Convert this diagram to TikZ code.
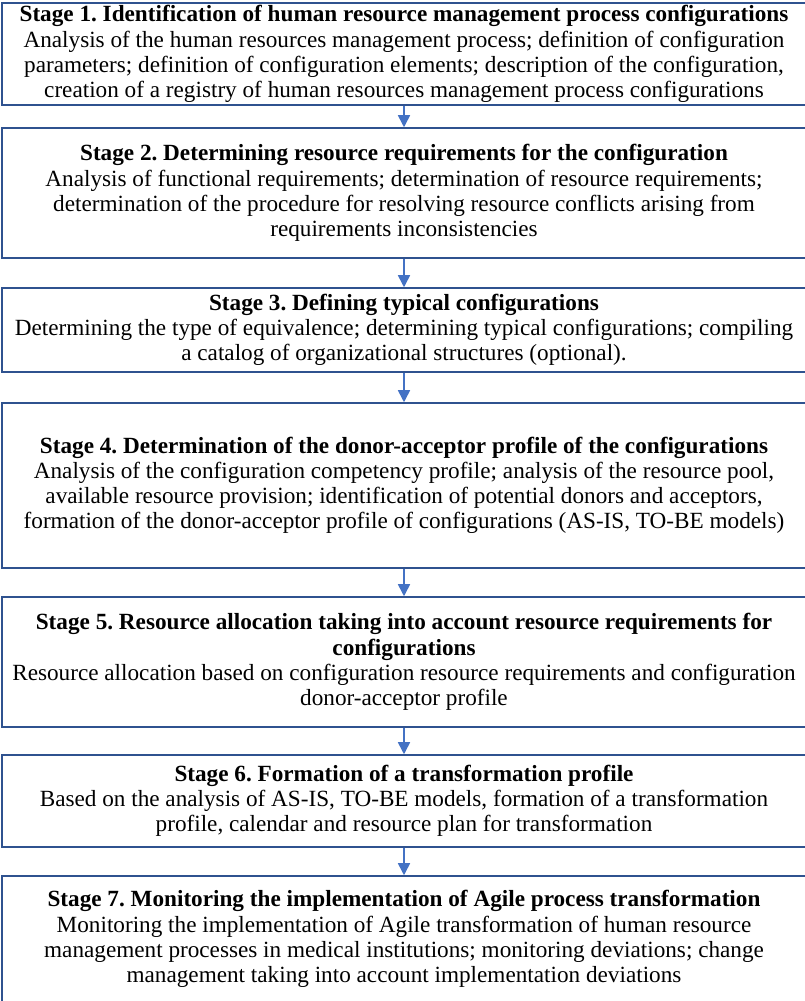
\documentclass[tikz,border=0pt]{standalone}
\usepackage{fontspec}
\setmainfont{Liberation Serif}
\usepackage{xcolor}
\usetikzlibrary{arrows.meta,positioning}

\definecolor{boxline}{RGB}{47,82,143}
\definecolor{arrowblue}{RGB}{68,114,196}
\frenchspacing

\begin{document}
\begin{tikzpicture}[
  x=0.5pt, y=0.5pt,
  font=\fontsize{11.6}{12.6}\selectfont,
  stagebox/.style={draw=boxline,line width=0.75pt,minimum width=402pt,inner sep=0pt,align=center},
  flow/.style={draw=arrowblue,line width=0.8pt,-{Triangle[length=6pt,width=6pt]}},
]
\useasboundingbox (0,0) rectangle (804,1001);
\node[stagebox,minimum height=51pt] (st1) at (404,947)
  {\textbf{Stage 1. Identification of human resource management process configurations}\\
   Analysis of the human resources management process; definition of configuration\\
   parameters; definition of configuration elements; description of the configuration,\\
   creation of a registry of human resources management process configurations};
\node[stagebox,minimum height=65pt] (st2) at (404,808)
  {\textbf{Stage 2. Determining resource requirements for the configuration}\\
   Analysis of functional requirements; determination of resource requirements;\\
   determination of the procedure for resolving resource conflicts arising from\\
   requirements inconsistencies};
\node[stagebox,minimum height=42pt] (st3) at (404,671)
  {\textbf{Stage 3. Defining typical configurations}\\
   Determining the type of equivalence; determining typical configurations; compiling\\
   a catalog of organizational structures (optional).};
\node[stagebox,minimum height=82.5pt] (st4) at (404,515.5)
  {\textbf{Stage 4. Determination of the donor-acceptor profile of the configurations}\\
   Analysis of the configuration competency profile; analysis of the resource pool,\\
   available resource provision; identification of potential donors and acceptors,\\
   formation of the donor-acceptor profile of configurations (AS-IS, TO-BE models)};
\node[stagebox,minimum height=65pt] (st5) at (404,339)
  {\textbf{Stage 5. Resource allocation taking into account resource requirements for}\\
   \textbf{configurations}\\
   Resource allocation based on configuration resource requirements and configuration\\
   donor-acceptor profile};
\node[stagebox,minimum height=46pt] (st6) at (404,200)
  {\textbf{Stage 6. Formation of a transformation profile}\\
   Based on the analysis of AS-IS, TO-BE models, formation of a transformation\\
   profile, calendar and resource plan for transformation};
\node[stagebox,minimum height=63pt] (st7) at (404,62)
  {\textbf{Stage 7. Monitoring the implementation of Agile process transformation}\\
   Monitoring the implementation of Agile transformation of human resource\\
   management processes in medical institutions; monitoring deviations; change\\
   management taking into account implementation deviations};
\draw[flow] (st1) -- (st2);
\draw[flow] (st2) -- (st3);
\draw[flow] (st3) -- (st4);
\draw[flow] (st4) -- (st5);
\draw[flow] (st5) -- (st6);
\draw[flow] (st6) -- (st7);
\end{tikzpicture}
\end{document}
